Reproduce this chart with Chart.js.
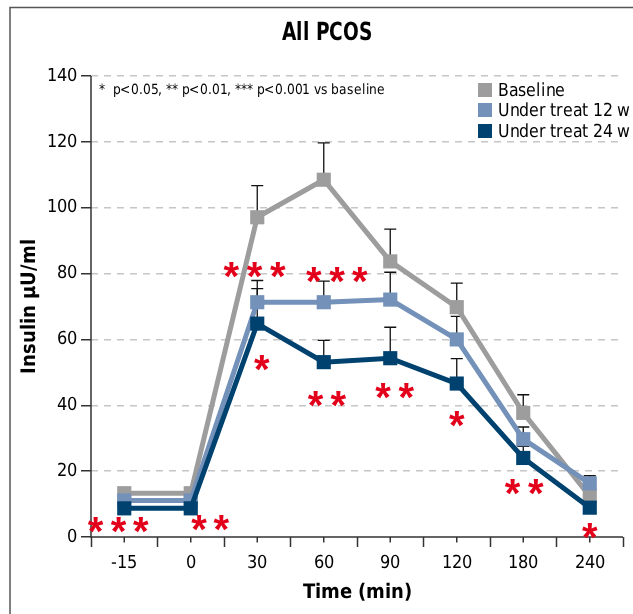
<!DOCTYPE html>
<html>
<head>
<meta charset="utf-8">
<script src="https://cdn.jsdelivr.net/npm/chart.js@4.4.1/dist/chart.umd.min.js"></script>
<style>
  @font-face {
    font-family: 'CondSans';
    src: local('Liberation Sans Narrow'), local('LiberationSansNarrow-Regular'),
         local('DejaVu Sans Condensed'), local('DejaVuSansCondensed');
    font-weight: normal;
  }
  @font-face {
    font-family: 'CondSans';
    src: local('Liberation Sans Narrow Bold'), local('LiberationSansNarrow-Bold'),
         local('DejaVu Sans Condensed Bold'), local('DejaVuSansCondensed-Bold');
    font-weight: bold;
  }
  html, body { margin: 0; padding: 0; background: #fff; }
  #wrap { position: relative; width: 633px; height: 614px; }
</style>
</head>
<body>
<div id="wrap"><canvas id="chart-insulin"></canvas></div>
<script>
// ---- data ----
const timeLabels = ['-15', '0', '30', '60', '90', '120', '180', '240'];
const seriesNames = ['Baseline', 'Under treat 12 w', 'Under treat 24 w'];

const baseline = [13.3, 13.3, 97.1, 108.5, 83.7, 69.8, 37.7, 12.4];
const treat12 = [11.1, 11.1, 71.3, 71.3, 72.1, 60.0, 29.7, 16.3];
const treat24 = [8.7, 8.7, 64.8, 53.1, 54.3, 46.6, 24.0, 8.9];

// upper end of the error bars
const baselineUpper = [14.5, 14.5, 106.7, 119.7, 93.5, 77.1, 43.2, 14.5];
const treat12Upper = [12.5, 12.5, 77.9, 77.7, 80.4, 67.0, 33.4, 18.6];
const treat24Upper = [9.8, 9.8, 75.4, 59.7, 63.7, 54.2, 27.5, 10.0];

// significance stars: [category index, shift in category widths, y value]
const starMarks = [
  [0, -0.43, 3.6], [0, -0.085, 3.6], [0, 0.25, 3.6],
  [1, 0.125, 4.4], [1, 0.46, 4.4],
  [2, -0.39, 81.1], [2, -0.04, 81.1], [2, 0.31, 81.1],
  [2, 0.07, 52.8],
  [3, -0.15, 79.6], [3, 0.2, 79.6], [3, 0.54, 79.6],
  [3, -0.125, 42.0], [3, 0.22, 42.0],
  [4, -0.11, 44.2], [4, 0.24, 44.2],
  [5, 0, 35.8],
  [6, -0.16, 15.1], [6, 0.19, 15.1],
  [7, 0, 1.9]
];

const yTicks = [0, 20, 40, 60, 80, 100, 120, 140];
const titleText = 'All PCOS';
const noteText = '*  p<0.05, ** p<0.01, *** p<0.001 vs baseline';

const COLORS = ['#9d9d9d', '#7391b9', '#00426f'];
const AXIS_COLOR = '#333';
let FAMILY = "CondSans, 'Liberation Sans', sans-serif";

// draw text squeezed so that it spans a given width (the figure uses a condensed face)
function fitText(ctx, text, x, y, width, align) {
  const w = ctx.measureText(text).width;
  const sx = Math.min(1, width / w);
  ctx.save();
  ctx.translate(x, y);
  ctx.scale(sx, 1);
  ctx.textAlign = align;
  ctx.fillText(text, 0, 0);
  ctx.restore();
}

const decorPlugin = {
  id: 'decor',
  beforeDatasetsDraw(chart) {
    const ctx = chart.ctx;
    const x = chart.scales.x, y = chart.scales.y;
    const uppers = [baselineUpper, treat12Upper, treat24Upper];
    const values = [baseline, treat12, treat24];
    ctx.save();
    ctx.strokeStyle = '#111';
    ctx.lineWidth = 1.3;
    uppers.forEach((up, s) => {
      up.forEach((u, i) => {
        const px = x.getPixelForValue(i);
        const y0 = y.getPixelForValue(values[s][i]);
        const y1 = y.getPixelForValue(u);
        ctx.beginPath();
        ctx.moveTo(px, y0);
        ctx.lineTo(px, y1);
        ctx.moveTo(px - 6, y1);
        ctx.lineTo(px + 6, y1);
        ctx.stroke();
      });
    });
    ctx.restore();
  },
  afterDraw(chart) {
    const ctx = chart.ctx;
    const x = chart.scales.x, y = chart.scales.y;
    const step = x.getPixelForValue(1) - x.getPixelForValue(0);
    ctx.save();

    // frame of the panel (top and left)
    ctx.strokeStyle = '#555';
    ctx.lineWidth = 1.5;
    ctx.beginPath();
    ctx.moveTo(10, 633);
    ctx.lineTo(10, 7.5);
    ctx.lineTo(633, 7.5);
    ctx.stroke();

    // solid axis lines over the dashed grid
    ctx.strokeStyle = AXIS_COLOR;
    ctx.lineWidth = 1.5;
    ctx.beginPath();
    ctx.moveTo(x.left, y.top);
    ctx.lineTo(x.left, y.bottom);
    ctx.lineTo(x.right, y.bottom);
    ctx.stroke();

    // short ticks at category centres
    timeLabels.forEach((t, i) => {
      const px = x.getPixelForValue(i);
      ctx.beginPath();
      ctx.moveTo(px, y.bottom);
      ctx.lineTo(px, y.bottom + 5.5);
      ctx.stroke();
    });

    ctx.fillStyle = '#000';
    ctx.textBaseline = 'middle';

    // title
    ctx.font = 'bold 25px ' + FAMILY;
    fitText(ctx, titleText, 327, 33, 90, 'center');

    // p-value note
    ctx.font = '14px ' + FAMILY;
    fitText(ctx, noteText, 99, 90, 286, 'left');

    // legend
    ctx.font = '18px ' + FAMILY;
    const rows = [90, 110, 131];
    const legendWidth = 132 / ctx.measureText(seriesNames[2]).width;
    seriesNames.forEach((name, i) => {
      ctx.fillStyle = COLORS[i];
      ctx.fillRect(478, rows[i] - 7, 14, 14);
      ctx.fillStyle = '#000';
      fitText(ctx, name, 498, rows[i] + 1, ctx.measureText(name).width * legendWidth, 'left');
    });

    // significance stars
    ctx.fillStyle = '#e2001a';
    ctx.font = "bold 40px 'Liberation Sans', sans-serif";
    ctx.textAlign = 'center';
    ctx.textBaseline = 'alphabetic';
    const m = ctx.measureText('*');
    const mid = (m.actualBoundingBoxAscent - m.actualBoundingBoxDescent) / 2;
    starMarks.forEach(([i, shift, v]) => {
      const px = x.getPixelForValue(i) + shift * step;
      const py = y.getPixelForValue(v);
      ctx.fillText('*', px, py + mid);
    });
    ctx.restore();
  }
};

function makeSet(label, data, color, order) {
  return {
    label: label,
    data: data,
    borderColor: color,
    backgroundColor: color,
    borderWidth: 5,
    pointStyle: 'rect',
    pointRadius: 10,
    pointHoverRadius: 10,
    pointBorderWidth: 0,
    pointBackgroundColor: color,
    tension: 0,
    fill: false,
    order: order
  };
}

function buildChart() {
  const ctx = document.getElementById('chart-insulin');
  return new Chart(ctx, {
    type: 'line',
    data: {
      labels: timeLabels,
      datasets: [
        makeSet(seriesNames[0], baseline, COLORS[0], 3),
        makeSet(seriesNames[1], treat12, COLORS[1], 2),
        makeSet(seriesNames[2], treat24, COLORS[2], 1)
      ]
    },
    options: {
      responsive: true,
      maintainAspectRatio: false,
      animation: false,
      layout: { padding: { left: 10, right: 4, top: 76, bottom: 0 } },
      plugins: {
        legend: { display: false },
        tooltip: { enabled: false },
        title: { display: false }
      },
      scales: {
        x: {
          type: 'category',
          offset: true,
          afterFit: (s) => { s.height = 77; },
          border: { display: false },
          grid: {
            offset: true,
            drawOnChartArea: false,
            drawTicks: true,
            tickLength: 10,
            tickColor: AXIS_COLOR,
            tickWidth: 1.5
          },
          ticks: {
            color: '#000',
            padding: 6,
            maxRotation: 0,
            font: { family: FAMILY, size: 18 }
          },
          title: {
            display: true,
            text: 'Time (min)',
            color: '#000',
            padding: { top: 2, bottom: 9 },
            font: { family: FAMILY, size: 20, weight: 'bold' }
          }
        },
        y: {
          min: 0,
          max: 140,
          afterFit: (s) => { s.width = 81; },
          afterBuildTicks: (s) => { s.ticks = yTicks.map(v => ({ value: v })); },
          border: { display: false, dash: [7, 6] },
          grid: {
            color: (c) => c.tick && c.tick.value === 0 ? 'rgba(0,0,0,0)' : '#c6c6c6',
            lineWidth: 1.5,
            drawTicks: true,
            tickLength: 10,
            tickColor: AXIS_COLOR,
            tickWidth: 1.5,
            tickBorderDash: []
          },
          ticks: {
            color: '#000',
            padding: 4,
            font: { family: FAMILY, size: 18 }
          },
          title: {
            display: true,
            text: 'Insulin µU/ml',
            color: '#000',
            padding: { top: 8, bottom: 0 },
            font: { family: FAMILY, size: 20, weight: 'bold' }
          }
        }
      }
    },
    plugins: [decorPlugin]
  });
}

Promise.all([
  document.fonts.load('18px CondSans'),
  document.fonts.load('bold 18px CondSans')
]).then(buildChart, buildChart);
</script>
</body>
</html>
